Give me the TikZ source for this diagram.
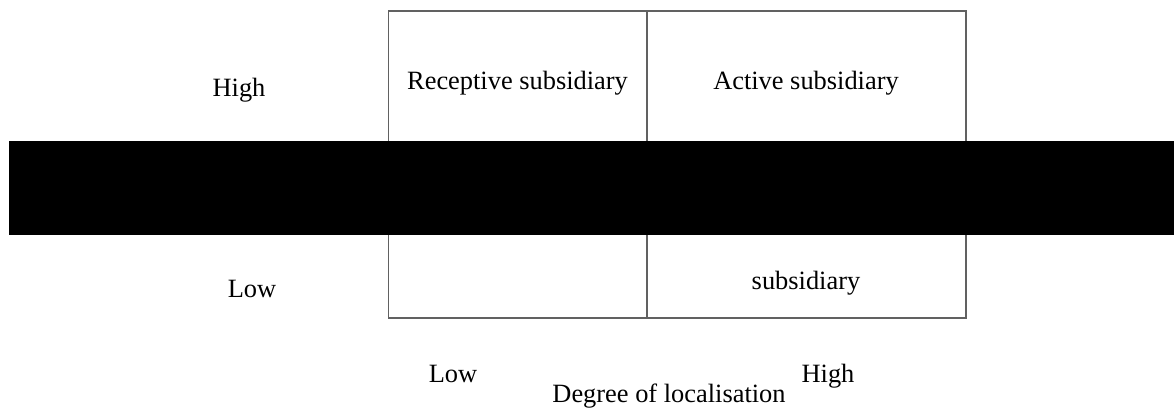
\documentclass[tikz,border=0pt]{standalone}
\usepackage{fontspec}
\setmainfont{Liberation Serif}
\begin{document}
\begin{tikzpicture}[x=1pt,y=-1pt,
  grid/.style={draw=black!62,line width=1.6pt},
  lbl/.style={inner sep=0pt,anchor=base,font=\fontsize{26.4}{30}\selectfont},
  redact/.style={fill=black,draw=none}]
\useasboundingbox (0,0) rectangle (1174,407);
% 2x2 matrix cells
\coordinate (tl) at (388.5,11);
\coordinate (mt) at (647,11);
\coordinate (tr) at (966,11);
\coordinate (ml) at (388.5,164.5);
\coordinate (mr) at (966,164.5);
\coordinate (bl) at (388.5,318);
\coordinate (mb) at (647,318);
\coordinate (br) at (966,318);
\draw[grid] (tl) rectangle (br);
\draw[grid] (mt) -- (mb);
\draw[grid] (ml) -- (mr);
% cell labels
\node[lbl] (c1) at (517.5,89) {Receptive subsidiary};
\node[lbl] (c2) at (806,89) {Active subsidiary};
\node[lbl] (c4) at (806,289) {subsidiary};
% vertical axis labels
\node[lbl] (yh) at (239,96) {High};
\node[lbl] (yl) at (252,297) {Low};
% horizontal axis labels
\node[lbl] (xl) at (453,382) {Low};
\node[lbl] (xt) at (669,402) {Degree of localisation};
\node[lbl] (xh) at (828,382) {High};
% band across the middle
\fill[redact] (9,141) rectangle (1174,235);
\end{tikzpicture}
\end{document}
